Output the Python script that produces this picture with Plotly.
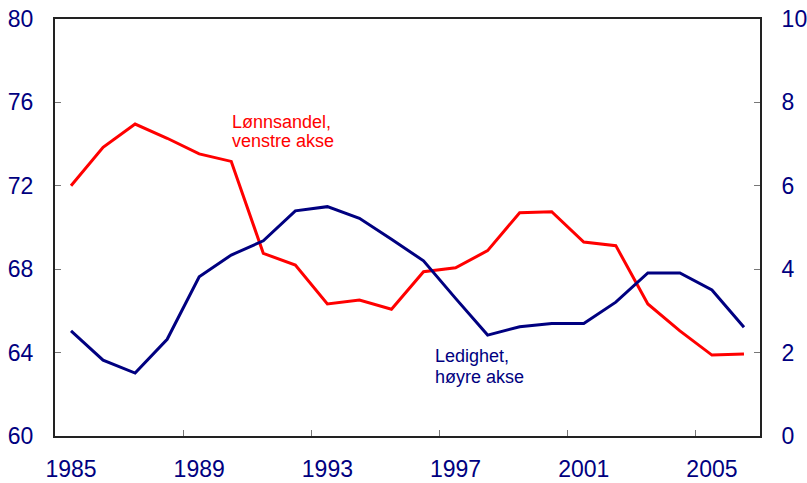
import plotly.graph_objects as go

years = list(range(1985, 2007))
lonnsandel = [72.0, 73.85, 74.96, 74.28, 73.53, 73.17, 68.76, 68.2, 66.33, 66.52, 66.08,
              67.88, 68.07, 68.89, 70.71, 70.76, 69.3, 69.13, 66.33, 65.04, 63.88, 63.93]
ledighet = [2.52, 1.82, 1.51, 2.32, 3.82, 4.34, 4.68, 5.4, 5.5, 5.22, 4.72,
            4.2, 3.3, 2.42, 2.62, 2.7, 2.7, 3.21, 3.91, 3.91, 3.5, 2.61]
x_labels = [1985, 1989, 1993, 1997, 2001, 2005]
x_ticks = [1988.5, 1992.5, 1996.5, 2000.5, 2004.5]
left_ticks = [60, 64, 68, 72, 76, 80]
right_ticks = [0, 2, 4, 6, 8, 10]

RED = "#FF0000"
NAVY = "#000080"
FONT = "Liberation Sans, Arial, sans-serif"

fig = go.Figure()
fig.add_trace(go.Scatter(x=years, y=lonnsandel, mode="lines",
                         line=dict(color=RED, width=3), yaxis="y"))
fig.add_trace(go.Scatter(x=years, y=ledighet, mode="lines",
                         line=dict(color=NAVY, width=3), yaxis="y2"))

fig.update_layout(
    width=807, height=483,
    margin=dict(l=55, r=47, t=19, b=47),
    plot_bgcolor="white", paper_bgcolor="white",
    showlegend=False,
    font=dict(family=FONT, color=NAVY, size=23),
    xaxis=dict(range=[1984.5, 2006.5], tickvals=x_labels, ticktext=[str(v) for v in x_labels],
               ticks="", showgrid=False, zeroline=False, automargin=False,
               showline=True, linecolor="#222222", linewidth=2, mirror=True,
               ticklabelstandoff=11,
               minor=dict(tickvals=x_ticks, ticks="inside", ticklen=6, tickcolor="#777777",
                          tickwidth=1, showgrid=False)),
    yaxis=dict(range=[60, 80], tickvals=left_ticks, ticks="inside", ticklen=6,
               tickcolor="#777777", showgrid=False, zeroline=False, automargin=False,
               showline=True, linecolor="#222222", linewidth=2,
               ticklabelstandoff=15),
    yaxis2=dict(range=[0, 10], tickvals=right_ticks, ticks="inside", ticklen=6,
                tickcolor="#777777", showgrid=False, zeroline=False, automargin=False,
                showline=True, linecolor="#222222", linewidth=2,
                overlaying="y", side="right", ticklabelstandoff=15),
)

red_lines = ["Lønnsandel,", "venstre akse"]
red_y = [75.08, 74.14]
for txt, yv in zip(red_lines, red_y):
    fig.add_annotation(x=1989.97, y=yv, xref="x", yref="y", xanchor="left", yanchor="middle",
                       text=txt, showarrow=False, align="left",
                       font=dict(family=FONT, color=RED, size=18))

blue_lines = ["Ledighet,", "høyre akse"]
blue_y = [1.93, 1.41]
for txt, yv in zip(blue_lines, blue_y):
    fig.add_annotation(x=1996.31, y=yv, xref="x", yref="y2", xanchor="left", yanchor="middle",
                       text=txt, showarrow=False, align="left",
                       font=dict(family=FONT, color=NAVY, size=18))

fig.write_html("out.html", config={"displayModeBar": False},
               post_script="document.body.style.margin='0';document.body.style.overflow='hidden';")
